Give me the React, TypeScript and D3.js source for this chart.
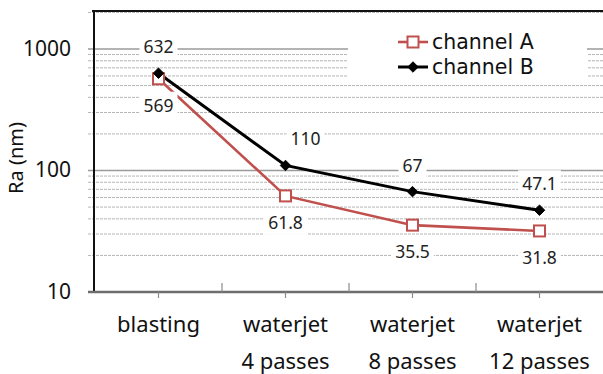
import React, { useEffect, useRef } from "react";
import * as d3 from "d3";

// Surface roughness (Ra, nm) after each treatment step
const categories = ["blasting", "waterjet\n4 passes", "waterjet\n8 passes", "waterjet\n12 passes"];
const channelA = [569, 61.8, 35.5, 31.8];
const channelB = [632, 110, 67, 47.1];
const seriesNames = ["channel A", "channel B"];
const yTickValues = [10, 100, 1000];

const W = 603;
const H = 374;
const FONT = "'Noto Sans', 'Open Sans', sans-serif";
const RED = "#C0504D";

export default function App() {
  const ref = useRef<SVGSVGElement | null>(null);

  useEffect(() => {
    const svg = d3.select(ref.current);
    svg.selectAll("*").remove();

    const left = 95, right = 603, top = 11, bottom = 292;
    const x = d3.scaleBand<string>().domain(categories).range([left, right]);
    const y = d3.scaleLog().domain([10, 1000]).range([bottom, 49]);
    const cx = (i: number) => (x(categories[i]) as number) + x.bandwidth() / 2;

    // gridlines: minor (dashed) then major (solid)
    const minor: number[] = [];
    for (const d of [10, 100, 1000]) {
      for (let k = 2; k <= 9; k++) {
        const v = d * k;
        if (y(v) >= top) minor.push(v);
      }
    }
    svg.append("g").selectAll("line").data(minor).join("line")
      .attr("x1", 88).attr("x2", right)
      .attr("y1", (d) => y(d)).attr("y2", (d) => y(d))
      .attr("stroke", "#b5b5b5").attr("stroke-width", 1).attr("stroke-dasharray", "3 1");
    svg.append("g").selectAll("line").data(yTickValues.filter((v) => v > 10)).join("line")
      .attr("x1", 88).attr("x2", right)
      .attr("y1", (d) => y(d)).attr("y2", (d) => y(d))
      .attr("stroke", "#9a9a9a").attr("stroke-width", 1.5);

    // y tick labels
    svg.append("g").selectAll("text").data(yTickValues).join("text")
      .attr("x", 71).attr("y", (d) => y(d) + 6.5)
      .attr("text-anchor", "end").attr("font-family", FONT).attr("font-size", 21)
      .attr("fill", "#111").text((d) => String(d));

    // y axis title
    svg.append("text")
      .attr("transform", `translate(23, 158) rotate(-90)`)
      .attr("text-anchor", "middle").attr("font-family", FONT).attr("font-size", 20)
      .attr("fill", "#111").text("Ra (nm)");

    // frame
    svg.append("line").attr("x1", 92).attr("x2", right).attr("y1", top).attr("y2", top)
      .attr("stroke", "#111").attr("stroke-width", 2);
    svg.append("line").attr("x1", 94).attr("x2", 94).attr("y1", top).attr("y2", bottom)
      .attr("stroke", "#111").attr("stroke-width", 2);
    svg.append("line").attr("x1", 88).attr("x2", right).attr("y1", bottom).attr("y2", bottom)
      .attr("stroke", "#6e6e6e").attr("stroke-width", 2.5);

    // x ticks: boundaries point up, centers point down
    const bounds = categories.slice(1).map((c) => x(c) as number);
    svg.append("g").selectAll("line").data(bounds).join("line")
      .attr("x1", (d) => d).attr("x2", (d) => d).attr("y1", 283).attr("y2", bottom)
      .attr("stroke", "#8a8a8a").attr("stroke-width", 1.2);
    svg.append("g").selectAll("line").data(categories).join("line")
      .attr("x1", (_, i) => cx(i)).attr("x2", (_, i) => cx(i)).attr("y1", bottom).attr("y2", 298)
      .attr("stroke", "#8a8a8a").attr("stroke-width", 1.2);

    // category labels
    const cat = svg.append("g").selectAll("text").data(categories).join("text")
      .attr("text-anchor", "middle").attr("font-family", FONT).attr("font-size", 22).attr("fill", "#111");
    cat.each(function (d, i) {
      const t = d3.select(this);
      d.split("\n").forEach((line, j) => {
        t.append("tspan").attr("x", cx(i)).attr("y", 332 + j * 37).text(line);
      });
    });

    // lines
    const line = d3.line<number>().x((_, i) => cx(i)).y((d) => y(d));
    svg.append("path").datum(channelA).attr("d", line).attr("fill", "none")
      .attr("stroke", RED).attr("stroke-width", 2.6);
    svg.append("path").datum(channelB).attr("d", line).attr("fill", "none")
      .attr("stroke", "#000").attr("stroke-width", 3);

    // markers
    const sq = 11;
    svg.append("g").selectAll("rect").data(channelA).join("rect")
      .attr("x", (_, i) => cx(i) - sq / 2).attr("y", (d) => y(d) - sq / 2)
      .attr("width", sq).attr("height", sq)
      .attr("fill", "#fff").attr("stroke", RED).attr("stroke-width", 2);
    const diamond = d3.symbol().type(d3.symbolDiamond2).size(70);
    svg.append("g").selectAll("path").data(channelB).join("path")
      .attr("d", diamond)
      .attr("transform", (d, i) => `translate(${cx(i)},${y(d)})`)
      .attr("fill", "#000").attr("stroke", "#000").attr("stroke-width", 1);

    // data labels with white backing
    const labelShift = [0, 20, 0, 0];
    const addLabel = (v: number, i: number, dy: number, dx: number) => {
      const g = svg.append("g");
      const t = g.append("text")
        .attr("x", cx(i) + dx).attr("y", y(v) + dy)
        .attr("text-anchor", "middle").attr("font-family", FONT).attr("font-size", 17.5)
        .attr("fill", "#222").text(String(v));
      const b = (t.node() as SVGTextElement).getBBox();
      g.insert("rect", "text")
        .attr("x", b.x - 4).attr("y", b.y - 1).attr("width", b.width + 8).attr("height", b.height + 2)
        .attr("fill", "#fff");
    };
    channelA.forEach((v, i) => addLabel(v, i, 33, 0));
    channelB.forEach((v, i) => addLabel(v, i, -20, labelShift[i]));

    // legend
    const lg = svg.append("g");
    lg.append("rect").attr("x", 348).attr("y", 25).attr("width", 239).attr("height", 55).attr("fill", "#fff");
    const rows = [
      { name: seriesNames[0], color: RED, y: 42 },
      { name: seriesNames[1], color: "#000", y: 67 },
    ];
    rows.forEach((r, k) => {
      lg.append("line").attr("x1", 398).attr("x2", 428).attr("y1", r.y).attr("y2", r.y)
        .attr("stroke", r.color).attr("stroke-width", k === 0 ? 2.6 : 3);
      if (k === 0) {
        lg.append("rect").attr("x", 413 - sq / 2).attr("y", r.y - sq / 2).attr("width", sq).attr("height", sq)
          .attr("fill", "#fff").attr("stroke", RED).attr("stroke-width", 2);
      } else {
        lg.append("path").attr("d", diamond).attr("transform", `translate(413,${r.y})`)
          .attr("fill", "#000").attr("stroke", "#000").attr("stroke-width", 1);
      }
      lg.append("text").attr("x", 432).attr("y", r.y + 7)
        .attr("font-family", "'DejaVu Sans', sans-serif").attr("font-size", 20.5).attr("fill", "#111").text(r.name);
    });
  }, []);

  return <svg ref={ref} width={W} height={H} style={{ position: "absolute", left: 0, top: 0, background: "#fff" }} />;
}
